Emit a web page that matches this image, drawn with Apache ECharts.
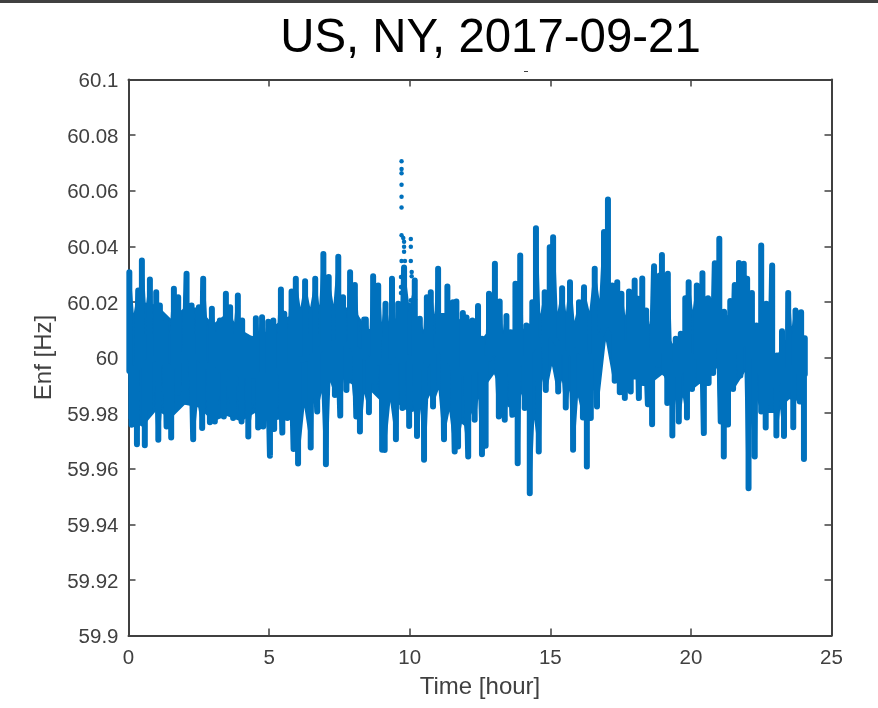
<!DOCTYPE html>
<html><head><meta charset="utf-8"><title>US, NY, 2017-09-21</title>
<style>html,body{margin:0;padding:0;background:#fff}#c{width:878px;height:708px}</style>
<script src="https://cdn.jsdelivr.net/npm/echarts@6/dist/echarts.min.js"></script></head>
<body><div id="c"></div>
<script>
const title = "US, NY, 2017-09-21";
const xName = "Time [hour]";
const yName = "Enf [Hz]";
const peakHours = [0.03,0.345,0.476,0.761,0.985,1.116,1.319,1.614,1.767,2.065,2.243,2.503,2.656,2.965,3.249,3.463,3.615,3.889,4.042,
 4.17,4.37,4.53,4.75,4.97,5.15,5.42,5.54,5.80,5.95,6.28,6.64,6.93,7.12,7.46,7.63,7.88,8.05,8.38,
 8.44,8.70,8.88,9.14,9.37,9.59,9.80,10.18,10.36,10.61,10.75,11.01,11.19,11.34,11.54,11.66,11.89,12.02,12.23,12.43,12.57,
 12.82,13.03,13.20,13.44,13.59,13.76,13.93,14.15,14.36,14.49,14.80,14.98,15.10,15.42,15.70,16.02,16.20,16.58,16.91,
 17.05,17.20,17.38,17.53,17.80,18.00,18.12,18.27,18.41,18.69,18.89,18.97,19.18,19.46,19.64,19.80,19.92,20.21,20.41,20.61,20.85,21.01,21.18,
 21.40,21.56,21.71,21.88,22.00,22.17,22.33,22.50,22.68,22.89,23.06,23.24,23.46,23.72,23.92,24.05];
const peakValues = [60.0307,60.0241,60.0349,60.0281,60.0235,60.0187,60.0127,60.0247,60.0217,60.0301,60.0187,60.0181,60.0283,60.0175,60.0133,60.0229,60.0181,60.0223,60.0133,
 60.0055,60.0067,60.0141,60.0145,60.0129,60.0133,60.0245,60.0157,60.0237,60.0283,60.0274,60.0283,60.0372,60.0290,60.0362,60.0217,60.0307,60.0261,60.0137,
 60.0137,60.0292,60.0259,60.0193,60.0283,60.0193,60.0324,60.0277,60.0139,60.0217,60.0235,60.0319,60.0145,60.0255,60.0199,60.0201,60.0160,60.0144,60.0133,60.0185,60.0067,
 60.0229,60.0337,60.0201,60.0149,60.0091,60.0265,60.0367,60.0115,60.0199,60.0465,60.0235,60.0397,60.0433,60.0249,60.0271,60.0199,60.0253,60.0319,60.0451,
 60.0568,60.0259,60.0271,60.0229,60.0237,60.0277,60.0211,60.0284,60.0169,60.0328,60.0295,60.0369,60.0301,60.0067,60.0085,60.0213,60.0271,60.0259,60.0303,60.0213,60.0339,60.0427,60.0165,
 60.0203,60.0261,60.0340,60.0337,60.0283,60.0232,60.0115,60.0403,60.0193,60.0331,60.0007,60.0094,60.0232,60.0169,60.0163,60.0069];
const troughHours = [0.11,0.30,0.58,0.76,1.06,1.354,1.518,1.767,2.005,2.30,2.62,2.894,3.07,3.39,3.72,4.02,
 4.26,4.61,4.79,5.03,5.18,5.47,5.65,5.87,6.03,6.48,6.71,7.02,7.34,7.53,7.75,8.10,8.23,
 8.55,8.76,9.02,9.11,9.51,9.74,9.98,10.26,10.51,10.83,11.22,11.60,11.72,12.08,12.31,12.57,
 12.70,12.85,13.17,13.38,13.65,13.84,14.09,14.27,14.59,14.84,15.28,15.55,15.81,16.16,16.30,16.44,16.66,
 17.29,17.47,17.65,17.86,18.00,18.15,18.33,18.47,18.62,18.83,19.07,19.16,19.34,19.57,19.86,20.04,20.29,20.46,20.63,20.79,21.06,21.17,
 21.32,21.50,21.76,22.05,22.27,22.50,22.66,22.82,23.04,23.31,23.51,23.64,23.87,24.02];
const troughValues = [59.9758,59.9688,59.9684,59.9818,59.9704,59.9752,59.9712,59.9872,59.9842,59.9706,59.9746,59.9767,59.9770,59.9788,59.9782,59.9770,
 59.9716,59.9748,59.9752,59.9647,59.9743,59.9730,59.9782,59.9671,59.9619,59.9676,59.9806,59.9616,59.9865,59.9791,59.9883,59.9788,59.9734,
 59.9803,59.9911,59.9668,59.9667,59.9706,59.9818,59.9754,59.9718,59.9632,59.9824,59.9706,59.9662,59.9680,59.9644,59.9776,59.9652,
 59.9683,59.9998,59.9788,59.9776,59.9794,59.9620,59.9818,59.9512,59.9662,59.9883,59.9878,59.9820,59.9668,59.9784,59.9608,59.9782,59.9824,
 59.9916,59.9875,59.9854,59.9878,59.9932,59.9854,59.9908,59.9832,59.9760,59.9973,59.9944,59.9836,59.9719,59.9770,59.9784,59.9887,59.9916,59.9728,59.9908,59.9944,59.9770,59.9644,
 59.9759,59.9887,59.9935,59.9530,59.9644,59.9806,59.9748,59.9836,59.9719,59.9718,59.9890,59.9749,59.9842,59.9635];
const bodyHours = [0,0.5,1,1.5,2,2.5,3,3.5,4,4.5,5,5.5,6,6.5,7,7.5,8,8.5,9,9.5,10,10.5,11,11.5,12,12.5,13,13.5,14,14.5,15,15.5,16,16.5,17,17.5,18,18.5,19,19.5,20,20.5,21,21.5,22,22.5,23,23.5,24];
const bodyTop = [60.012,60.020,60.019,60.014,60.018,60.018,60.012,60.016,60.010,60.007,60.010,60.014,60.016,60.018,60.018,60.018,60.018,60.010,60.012,60.014,60.020,60.010,60.016,60.016,60.012,60.006,60.012,60.008,60.010,60.014,60.020,60.012,60.012,60.008,60.020,60.014,60.014,60.012,60.012,60.002,60.012,60.012,60.014,60.016,60.016,60.008,60.000,60.008,60.004];
const bodyBottom = [59.978,59.975,59.981,59.978,59.983,59.982,59.977,59.979,59.977,59.980,59.977,59.978,59.982,59.982,59.991,59.993,59.990,59.989,59.984,59.984,59.980,59.982,59.992,59.979,59.975,59.987,59.994,59.982,59.987,59.996,59.998,59.990,59.994,59.990,60.007,59.998,59.993,59.990,59.994,59.984,59.988,59.992,60.000,59.988,59.996,59.980,59.980,59.985,59.984];
const dotHours = [9.71,9.71,9.71,9.71,9.71,9.71,9.71,9.77,9.80,9.80,9.80,10.04,10.04,10.04,9.71,9.83,10.07,10.07,10.18,10.18,10.18,10.19,10.04,10.04,9.69,9.69,9.69,9.79,9.79];
const dotValues = [60.0706,60.0678,60.0663,60.0621,60.0578,60.0540,60.0440,60.0430,60.0416,60.0398,60.0380,60.0426,60.0398,60.0347,60.0347,60.0347,60.0308,60.0292,60.0278,60.0258,60.0236,60.0209,60.0206,60.0170,60.0290,60.0254,60.0232,60.0302,60.0321];

const blue = '#0071bd', ink = '#404040';
const extremes = peakHours.map((h,i)=>[h,peakValues[i]]).concat(troughHours.map((h,i)=>[h,troughValues[i]])).sort((a,b)=>a[0]-b[0]);
const lerp = (arr,h) => { const t = Math.max(0,Math.min(47.999,h*2)), k = Math.floor(t); return arr[k]+(arr[k+1]-arr[k])*(t-k); };
const mid = h => (lerp(bodyTop,h)+lerp(bodyBottom,h))/2;
const path = [];
extremes.forEach(p => { const f = mid(p[0]); path.push([p[0],f],p,[p[0],f]); });
// Fill around the columns: shoulders follow the columns.
function shoulders(hours, values, band){
  const out = [];
  hours.forEach((h,i)=>{
    const off = values[i]-60, s = 60+0.85*off;
    out.push([h-0.08,s],[h+0.08,s]);
    if(i<hours.length-1){
      const next = hours[i+1], nextOff = values[i+1]-60, m = (h+next)/2;
      const limit = Math.abs(off)<Math.abs(nextOff)?off:nextOff;
      out.push([m, next-h>0.4 ? lerp(band,m) : 60+0.66*limit]);
    }
  });
  return out;
}
const upperEdge = shoulders(peakHours,peakValues,bodyTop);
const lowerEdge = shoulders(troughHours,troughValues,bodyBottom);
const midLine = bodyHours.map(h=>[h,mid(h)]);
const chart = echarts.init(document.getElementById('c'), null, {renderer:'canvas'});
const G = {left:128.5, top:79.5, width:703, height:556};
const tickFmt = v => '{t|' + String(+(+v).toFixed(2)) + '}';
const axisCommon = {axisLine:{show:true,onZero:false,lineStyle:{color:ink,width:2}},
  axisTick:{show:true,inside:true,length:7,lineStyle:{color:ink,width:1.5}},splitLine:{show:false}};
const xBase = {type:'value',min:0,max:25,interval:5};
const yBase = {type:'value',min:59.9,max:60.1,interval:0.02};
const polySeries = (ptsFn) => ({type:'custom',silent:true,z:2,clip:false,data:[0],
  renderItem:(params,api)=>({type:'polygon',shape:{points:ptsFn().map(p=>api.coord(p))},style:{fill:blue}})});
chart.setOption({
  animation:false, backgroundColor:'#fff',
  title:{text:title,left:485.5,top:10,textAlign:'center',textStyle:{fontFamily:'Liberation Sans',fontSize:47.4,fontWeight:'normal',color:'#000'}},
  grid:Object.assign({containLabel:false},G),
  xAxis:[Object.assign({},xBase,axisCommon,{position:'bottom',name:xName,nameLocation:'middle',nameGap:40,
      nameTextStyle:{fontFamily:'Liberation Sans',fontSize:24,color:ink},
      axisLabel:{margin:12,fontFamily:'Liberation Sans',fontSize:20.5,color:ink}}),
    Object.assign({},xBase,axisCommon,{position:'top',axisLabel:{show:false}})],
  yAxis:[Object.assign({},yBase,axisCommon,{position:'left',name:yName,nameLocation:'middle',nameGap:70,
      nameTextStyle:{fontFamily:'Liberation Sans',fontSize:24,color:ink},
      axisLabel:{margin:10,formatter:tickFmt,rich:{t:{padding:[4,0,0,0],fontFamily:'Liberation Sans',fontSize:20.5,color:ink}}}}),
    Object.assign({},yBase,axisCommon,{position:'right',axisLabel:{show:false}})],
  series:[
    polySeries(()=>bodyHours.map((h,i)=>[h,bodyTop[i]]).concat(bodyHours.map((h,i)=>[h,bodyBottom[i]]).reverse())),
    polySeries(()=>upperEdge.concat(midLine.slice().reverse())),
    polySeries(()=>lowerEdge.concat(midLine.slice().reverse())),
    {type:'line',symbol:'none',clip:false,lineStyle:{color:blue,width:6,cap:'round',join:'round'},data:path,silent:true,z:3},
    {type:'scatter',symbol:'circle',symbolSize:4.5,itemStyle:{color:blue,opacity:1},data:dotHours.map((h,i)=>[h,dotValues[i]]),silent:true,z:3}
  ],
  graphic:[
    {type:'rect',shape:{x:0,y:0,width:878,height:3},style:{fill:'#404040'},silent:true},
    {type:'rect',shape:{x:524,y:71,width:4,height:1},style:{fill:'#404040'},silent:true}
  ]
});
</script></body></html>
